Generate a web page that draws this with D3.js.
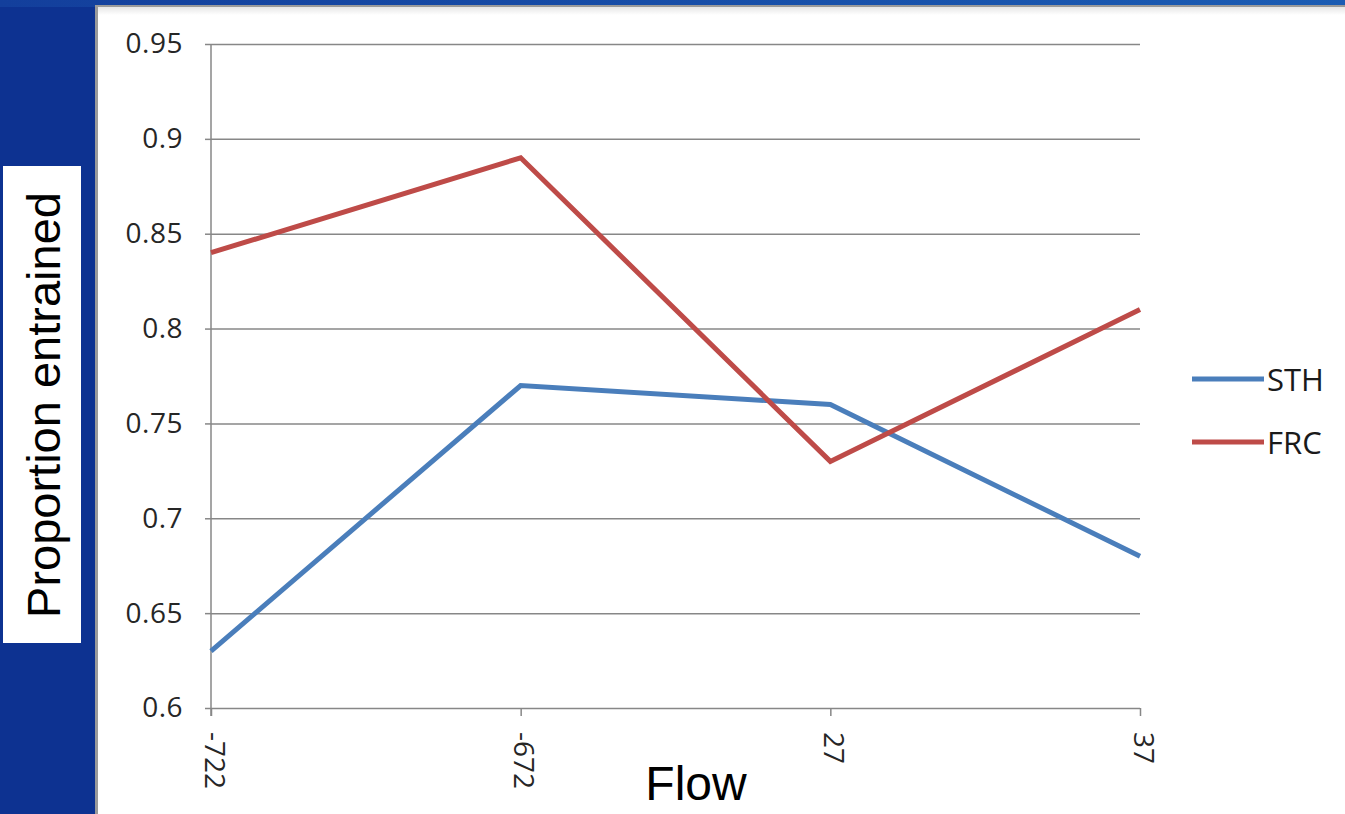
<!DOCTYPE html>
<html>
<head>
<meta charset="utf-8">
<script src="https://cdn.jsdelivr.net/npm/d3@7"></script>
<style>
  html, body { margin: 0; padding: 0; background: #0d3291; }
  svg { display: block; }
</style>
</head>
<body>
<script>
// Flow categories along the x axis
const categories = ["-722", "-672", "27", "37"];
// Proportion entrained per series
const sthValues = [0.63, 0.77, 0.76, 0.68];
const frcValues = [0.84, 0.89, 0.73, 0.81];
const seriesNames = ["STH", "FRC"];
const yTicks = [0.6, 0.65, 0.7, 0.75, 0.8, 0.85, 0.9, 0.95];

const W = 1345, H = 814;
const svg = d3.select("body").append("svg").attr("width", W).attr("height", H);

// slide background
const defs = svg.append("defs");
const g1 = defs.append("linearGradient").attr("id", "topband").attr("x1", 0).attr("x2", 1);
g1.append("stop").attr("offset", 0).attr("stop-color", "#133f9c");
g1.append("stop").attr("offset", 1).attr("stop-color", "#1b5cb3");
const g2 = defs.append("linearGradient").attr("id", "shade").attr("x1", 0).attr("x2", 0).attr("y1", 0).attr("y2", 1);
g2.append("stop").attr("offset", 0).attr("stop-color", "#e6e6e6");
g2.append("stop").attr("offset", 1).attr("stop-color", "#ffffff");

svg.append("rect").attr("x", 0).attr("y", 0).attr("width", W).attr("height", H).attr("fill", "#0d3291");
svg.append("rect").attr("x", 0).attr("y", 0).attr("width", W).attr("height", 7).attr("fill", "url(#topband)");

// white chart panel
svg.append("rect").attr("x", 95).attr("y", 5).attr("width", W - 95).attr("height", H - 5).attr("fill", "#9a9a9a");
svg.append("rect").attr("x", 98).attr("y", 7).attr("width", W - 98).attr("height", H - 7).attr("fill", "#ffffff");
svg.append("rect").attr("x", 98).attr("y", 7).attr("width", W - 98).attr("height", 8).attr("fill", "url(#shade)");

const x = d3.scalePoint().domain(categories).range([211, 1140]);
const y = d3.scaleLinear().domain([0.6, 0.95]).range([708, 44]);

const tickFont = "'Open Sans', 'DejaVu Sans', sans-serif";

// horizontal gridlines
const grid = svg.append("g")
  .attr("transform", "translate(211,0)")
  .call(d3.axisLeft(y).tickValues(yTicks).tickSize(-(1140 - 211)).tickFormat(""));
grid.selectAll("line").attr("stroke", "#878787").attr("stroke-width", 1.5);
grid.select(".domain").remove();

// y axis with outer tick marks and labels
const yAxis = svg.append("g")
  .attr("transform", "translate(211,0)")
  .call(d3.axisLeft(y).tickValues(yTicks).tickSize(6).tickPadding(22)
    .tickFormat(d => String(+d.toFixed(2))));
yAxis.select(".domain").attr("stroke", "#878787").attr("stroke-width", 1.5).attr("d", "M0,44V716");
yAxis.selectAll("line").attr("stroke", "#878787").attr("stroke-width", 1.5);
yAxis.selectAll("text")
  .attr("font-family", tickFont)
  .attr("font-size", 28).attr("fill", "#262626")
  .attr("letter-spacing", 0.5);

// x axis ticks and rotated labels
const xAxis = svg.append("g")
  .attr("transform", "translate(0,708)")
  .call(d3.axisBottom(x).tickSize(8).tickPadding(0));
xAxis.select(".domain").remove();
xAxis.selectAll("line").attr("stroke", "#878787").attr("stroke-width", 1.5);
xAxis.selectAll("text")
  .attr("font-family", tickFont)
  .attr("font-size", 28).attr("fill", "#262626")
  .attr("text-anchor", "start")
  .attr("dy", null)
  .attr("transform", "translate(-7,24) rotate(90)")
  .attr("x", 0).attr("y", 0);

// series lines
const line = d3.line().x((d, i) => x(categories[i])).y(d => y(d));
const series = [
  { name: seriesNames[0], values: sthValues, color: "#4a7ebb" },
  { name: seriesNames[1], values: frcValues, color: "#be4b48" }
];
series.forEach(s => {
  svg.append("path").datum(s.values)
    .attr("d", line)
    .attr("fill", "none")
    .attr("stroke", s.color)
    .attr("stroke-width", 5)
    .attr("stroke-linejoin", "miter");
});

// legend
series.forEach((s, i) => {
  const ly = 379 + i * 63;
  svg.append("line").attr("x1", 1192).attr("x2", 1264).attr("y1", ly).attr("y2", ly)
    .attr("stroke", s.color).attr("stroke-width", 5);
  svg.append("text").attr("x", 1267).attr("y", ly + 12)
    .attr("font-family", tickFont)
    .attr("font-size", 31).attr("fill", "#1a1a1a").text(s.name);
});

// axis titles
svg.append("rect").attr("x", 3).attr("y", 166).attr("width", 78).attr("height", 477).attr("fill", "#ffffff");
svg.append("text")
  .attr("transform", "translate(60,405) rotate(-90)")
  .attr("text-anchor", "middle")
  .attr("font-family", "'Liberation Sans', Arial, sans-serif")
  .attr("font-size", 47).attr("fill", "#000")
  .text("Proportion entrained");

svg.append("text")
  .attr("x", 696).attr("y", 800)
  .attr("text-anchor", "middle")
  .attr("font-family", "'Liberation Sans', Arial, sans-serif")
  .attr("font-size", 48).attr("fill", "#000")
  .text("Flow");
</script>
</body>
</html>
